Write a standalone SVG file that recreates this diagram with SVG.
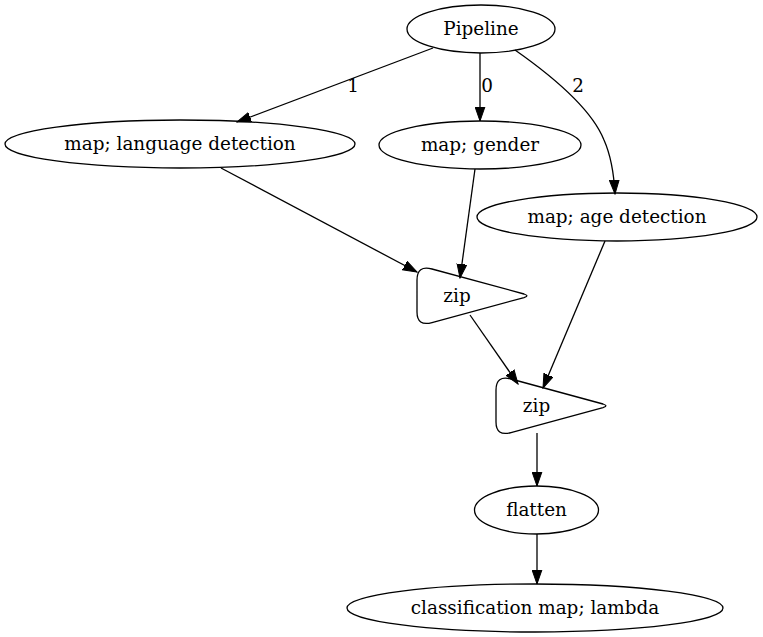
<svg xmlns="http://www.w3.org/2000/svg" width="763" height="637" viewBox="0 0 763 637">
<style>
.n{fill:none;stroke:#000;stroke-width:1.3}
.t{font-family:"DejaVu Serif",serif;font-size:18.4px;text-anchor:middle;fill:#000}
.e{fill:none;stroke:#000;stroke-width:1.3;marker-end:url(#ah)}
</style>
<defs>
<marker id="ah" markerUnits="userSpaceOnUse" markerWidth="15" markerHeight="11" refX="14" refY="5.5" orient="auto">
<path d="M0,0.6 L14,5.5 L0,10.4 Z" fill="#000" stroke="#000" stroke-width="1"/>
</marker>
</defs>
<rect width="763" height="637" fill="#fff"/>
<g id="edges">
<path class="e" d="M433,48 L237,122"/>
<text class="t" x="353" y="92">1</text>
<path class="e" d="M480,53 L480,121"/>
<text class="t" x="487" y="92">0</text>
<path class="e" d="M515,50 C555,78 592,110 604,140 C612,158 614,175 615,194"/>
<text class="t" x="578" y="92">2</text>
<path class="e" d="M221,168 L417,272"/>
<path class="e" d="M475,169 L460,278"/>
<path class="e" d="M470,315 L518,384"/>
<path class="e" d="M605,241 L543,388"/>
<path class="e" d="M537,433 L537,486"/>
<path class="e" d="M537,534 L537,584"/>
</g>
<g id="pipeline">
<ellipse class="n" cx="481" cy="29" rx="74" ry="24"/>
<text class="t" x="481" y="35">Pipeline</text>
</g>
<g id="lang">
<ellipse class="n" cx="180" cy="144" rx="175" ry="24"/>
<text class="t" x="180" y="150">map; language detection</text>
</g>
<g id="gender">
<ellipse class="n" cx="480" cy="145" rx="101" ry="24"/>
<text class="t" x="480" y="151">map; gender</text>
</g>
<g id="age">
<ellipse class="n" cx="617" cy="217" rx="140" ry="24"/>
<text class="t" x="617" y="223">map; age detection</text>
</g>
<g id="zip1">
<path class="n" d="M432,269 L524,294 Q530,295.8 524,297.6 L432,322.6 Q417,326.6 417,312 L417,280 Q417,265 432,269 Z"/>
<text class="t" x="457" y="302">zip</text>
</g>
<g id="zip2">
<path class="n" d="M511,379 L603,404 Q609,405.8 603,407.6 L511,432.6 Q496,436.6 496,422 L496,390 Q496,375 511,379 Z"/>
<text class="t" x="536.5" y="412">zip</text>
</g>
<g id="flatten">
<ellipse class="n" cx="536.5" cy="510" rx="62" ry="24"/>
<text class="t" x="536.5" y="516">flatten</text>
</g>
<g id="classification">
<ellipse class="n" cx="535" cy="608" rx="188" ry="24"/>
<text class="t" x="535" y="614">classification map; lambda</text>
</g>
</svg>
